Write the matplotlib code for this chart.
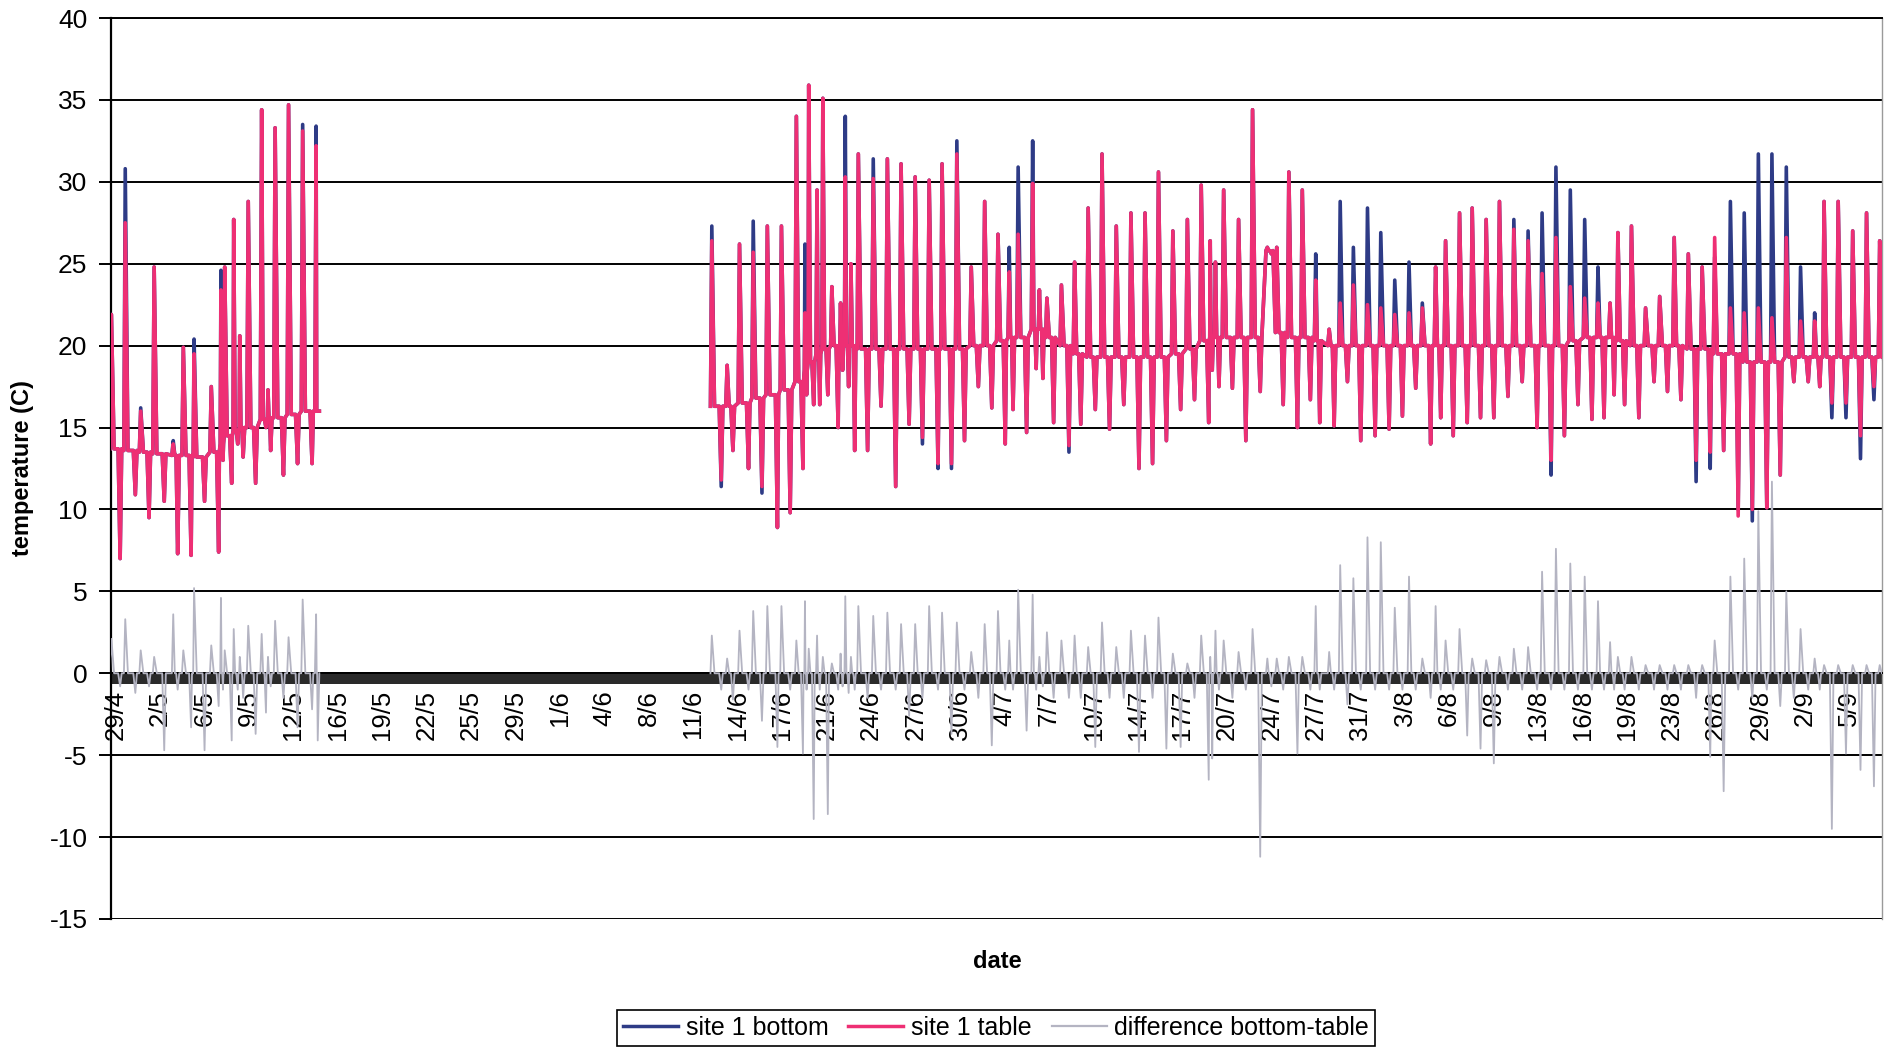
import matplotlib
matplotlib.use('Agg')
import matplotlib.pyplot as plt
from matplotlib.lines import Line2D
import numpy as np

plt.rcParams['font.family'] = ['Liberation Sans', 'DejaVu Sans']
plt.rcParams['axes.unicode_minus'] = False

# days counted from 29/4; one daily cycle = a peak followed by a trough
peak_day = [-0.30, 0.73, 1.88, 2.88, 4.30, 5.05, 5.85, 7.13, 7.85, 8.13,
            8.80, 9.25, 9.88, 10.88, 11.35, 11.88, 12.88, 13.93, 14.93,
            44.37, 45.51, 46.43, 47.45, 48.50, 49.55, 50.66, 51.30, 51.58, 52.20,
            52.63, 53.30, 53.95, 54.30, 54.72, 55.27, 56.38, 57.43, 58.45, 59.50,
            60.54, 61.50, 62.60, 63.67, 64.67, 65.66, 66.50, 67.16, 68.24, 68.74,
            69.30, 70.38, 71.36, 72.37, 73.40, 74.46, 75.55, 76.60, 77.60, 78.67,
            79.75, 80.78, 81.45, 81.84, 82.45, 83.56, 84.60, 85.70, 86.40, 87.30,
            88.30, 89.30, 90.30, 91.12, 92.10, 93.15, 94.14, 95.18, 96.24, 97.23,
            98.22, 98.96, 100.00, 100.94, 101.98, 102.97, 104.04, 105.10, 106.14, 107.17,
            108.24, 109.31, 110.30, 111.20, 111.78, 112.79, 113.84, 114.89, 115.97, 117.02,
            118.05, 118.98, 120.15, 121.18, 122.23, 123.24, 124.31, 125.37, 126.42, 127.12,
            128.17, 129.25, 130.28, 131.26]
table_peak = [21.9, 27.5, 16.0, 24.8, 14.0, 19.9, 19.5, 17.5, 23.4, 24.8,
              27.7, 20.6, 28.8, 34.4, 17.3, 33.3, 34.7, 33.1, 32.2,
              26.4, 18.8, 26.2, 25.7, 27.3, 27.3, 34.0, 22.0, 35.9, 29.5,
              35.1, 23.6, 22.6, 30.3, 25.0, 31.7, 30.2, 31.4, 31.1, 30.3,
              30.1, 31.1, 31.7, 24.8, 28.8, 26.8, 24.5, 26.8, 29.9, 23.4,
              22.9, 23.7, 25.1, 28.4, 31.7, 27.3, 28.1, 28.1, 30.6, 27.0,
              27.7, 29.8, 26.4, 25.1, 29.5, 27.7, 34.4, 26.0, 26.0, 30.6,
              29.5, 24.0, 21.0, 22.6, 23.7, 22.5, 22.3, 21.9, 22.0, 22.3,
              24.8, 26.4, 28.1, 28.4, 27.7, 28.8, 27.1, 26.4, 24.4, 26.6,
              23.6, 22.9, 22.6, 22.6, 26.9, 27.3, 22.3, 23.0, 26.6, 25.6,
              24.8, 26.6, 22.3, 22.0, 22.3, 21.7, 26.6, 21.5, 21.5, 28.8,
              28.8, 27.0, 28.1, 26.4]
bottom_peak = [21.9, 30.8, 16.2, 24.8, 14.2, 19.9, 20.4, 17.5, 24.6, 24.8,
               27.7, 20.6, 28.8, 34.4, 17.3, 33.3, 34.7, 33.5, 33.4,
               27.3, 18.8, 26.2, 27.6, 27.3, 27.3, 34.0, 26.2, 35.9, 29.5,
               35.1, 23.6, 22.6, 34.0, 25.0, 31.7, 31.4, 31.4, 31.1, 30.3,
               30.1, 31.1, 32.5, 24.8, 28.8, 26.8, 26.0, 30.9, 32.5, 23.4,
               22.9, 23.7, 25.1, 28.4, 31.7, 27.3, 28.1, 28.1, 30.6, 27.0,
               27.7, 29.8, 26.4, 25.1, 29.5, 27.7, 34.4, 26.0, 26.0, 30.6,
               29.5, 25.6, 21.0, 28.8, 26.0, 28.4, 26.9, 24.0, 25.1, 22.6,
               24.8, 26.4, 28.1, 28.4, 27.7, 28.8, 27.7, 27.0, 28.1, 30.9,
               29.5, 27.7, 24.8, 22.6, 26.9, 27.3, 22.3, 23.0, 26.6, 25.6,
               24.8, 25.4, 28.8, 28.1, 31.7, 31.7, 30.9, 24.8, 22.0, 28.8,
               28.8, 27.0, 28.1, 26.4]
trough_day = [0.35, 1.48, 2.50, 3.63, 4.63, 5.63, 6.63, 7.68, 8.00, 8.65,
              9.10, 9.50, 10.43, 11.20, 11.55, 12.50, 13.55, 14.63, 15.05,
              45.07, 45.94, 47.10, 48.10, 49.25, 50.20, 51.15, 51.42, 51.95, 52.40,
              53.00, 53.77, 54.10, 54.55, 55.00, 55.96, 56.96, 58.05, 59.05, 60.04,
              61.20, 62.20, 63.17, 64.20, 65.20, 66.20, 66.78, 67.79, 68.50, 69.00,
              69.80, 70.94, 71.82, 72.90, 73.96, 75.02, 76.15, 77.16, 78.19, 79.25,
              80.28, 81.34, 81.60, 82.10, 83.10, 84.10, 85.17, 86.00, 86.88, 87.94,
              88.90, 89.60, 90.67, 91.66, 92.65, 93.72, 94.76, 95.75, 96.74, 97.85,
              98.60, 99.53, 100.57, 101.56, 102.55, 103.60, 104.66, 105.77, 106.81, 107.80,
              108.81, 109.85, 110.75, 111.50, 112.28, 113.34, 114.47, 115.47, 116.47, 117.60,
              118.65, 119.65, 120.73, 121.78, 122.86, 123.86, 124.87, 125.94, 126.80, 127.70,
              128.75, 129.83, 130.83, 131.70]
table_trough = [7.0, 10.9, 9.5, 10.5, 7.3, 7.2, 10.5, 7.4, 13.0, 11.6,
                14.0, 13.2, 11.6, 15.0, 13.6, 12.1, 12.8, 12.8, 16.0,
                11.8, 13.6, 12.5, 11.4, 8.9, 9.8, 12.5, 17.0, 16.4, 16.4,
                17.0, 15.0, 18.5, 17.5, 13.6, 13.6, 16.3, 11.4, 15.2, 14.4,
                12.8, 12.8, 14.2, 17.5, 16.2, 14.0, 16.1, 14.7, 18.6, 18.0,
                15.3, 13.9, 15.2, 16.1, 14.9, 16.4, 12.5, 12.8, 14.2, 16.1,
                16.7, 15.3, 18.5, 17.5, 17.4, 14.2, 17.2, 25.6, 16.4, 15.0,
                16.7, 15.3, 15.1, 17.8, 14.2, 14.5, 14.9, 15.7, 17.4, 14.0,
                15.6, 14.5, 15.3, 15.6, 15.6, 16.9, 17.8, 15.0, 13.0, 14.5,
                16.4, 15.5, 15.6, 17.0, 16.4, 15.6, 17.8, 17.2, 16.7, 13.0,
                13.5, 13.6, 9.6, 10.0, 10.1, 12.1, 17.8, 17.8, 17.5, 16.5,
                16.5, 14.5, 17.5, 17.0]
bottom_trough = [7.0, 10.9, 9.5, 10.5, 7.3, 7.2, 10.5, 7.4, 13.0, 11.6,
                 14.0, 13.2, 11.6, 15.0, 13.6, 12.1, 12.8, 12.8, 16.0,
                 11.4, 13.6, 12.5, 11.0, 8.9, 9.8, 12.5, 17.0, 16.4, 16.4,
                 17.0, 15.0, 18.5, 17.5, 13.6, 13.6, 16.3, 11.4, 15.2, 14.0,
                 12.5, 12.5, 14.2, 17.5, 16.2, 14.0, 16.1, 14.7, 18.6, 18.0,
                 15.3, 13.5, 15.2, 16.1, 14.9, 16.4, 12.5, 12.8, 14.2, 16.1,
                 16.7, 15.3, 18.5, 17.5, 17.4, 14.2, 17.2, 25.6, 16.4, 15.0,
                 16.7, 15.3, 15.1, 17.8, 14.2, 14.5, 14.9, 15.7, 17.4, 14.0,
                 15.6, 14.5, 15.3, 15.6, 15.6, 16.9, 17.8, 15.0, 12.1, 14.5,
                 16.4, 15.5, 15.6, 17.0, 16.4, 15.6, 17.8, 17.2, 16.7, 11.7,
                 12.5, 13.6, 10.0, 9.3, 10.1, 12.1, 17.8, 17.8, 17.5, 15.6,
                 15.6, 13.1, 16.7, 17.0]
level = [13.7, 13.6, 13.5, 13.4, 13.3, 13.3, 13.2, 13.5, 14.0, 14.5,
         14.8, 15.0, 15.0, 15.5, 15.6, 15.6, 15.8, 16.0, 16.0,
         16.3, 16.3, 16.5, 16.8, 17.0, 17.3, 17.8, 18.5, 19.0, 19.5,
         19.8, 20.0, 20.0, 20.0, 20.0, 19.8, 19.8, 19.8, 19.8, 19.8,
         19.8, 19.8, 19.8, 20.0, 20.0, 20.3, 20.5, 20.5, 21.0, 21.0,
         20.5, 20.0, 19.5, 19.3, 19.3, 19.3, 19.3, 19.3, 19.3, 19.5,
         19.8, 20.3, 20.5, 20.5, 20.5, 20.5, 20.5, 25.8, 20.8, 20.5,
         20.5, 20.3, 20.0, 20.0, 20.0, 20.0, 20.0, 20.0, 20.0, 20.0,
         20.0, 20.0, 20.0, 20.0, 20.0, 20.0, 20.0, 20.0, 20.0, 20.0,
         20.3, 20.5, 20.5, 20.5, 20.3, 20.0, 20.0, 20.0, 20.0, 19.8,
         19.8, 19.5, 19.5, 19.0, 19.0, 19.0, 19.3, 19.3, 19.3, 19.3,
         19.3, 19.3, 19.3, 19.3]
diff_up = [2.1, 3.3, 1.4, 1.0, 3.6, 1.4, 5.2, 1.7, 4.6, 1.4,
           2.7, 1.0, 2.9, 2.4, 1.0, 3.2, 2.2, 4.5, 3.6,
           2.3, 0.9, 2.6, 3.8, 4.1, 4.1, 2.0, 4.4, 1.5, 2.3,
           1.0, 0.6, 1.2, 4.7, 1.0, 4.1, 3.5, 3.7, 3.0, 3.0,
           4.1, 3.7, 3.1, 1.3, 3.0, 3.8, 2.0, 5.1, 4.8, 1.0,
           2.5, 2.0, 2.3, 1.6, 3.1, 1.6, 2.6, 2.3, 3.4, 1.2,
           0.6, 2.3, 1.0, 2.6, 2.0, 1.3, 2.7, 0.9, 0.9, 1.0,
           1.0, 4.1, 1.3, 6.6, 5.8, 8.3, 8.0, 4.0, 5.9, 0.9,
           4.1, 2.0, 2.7, 0.9, 0.8, 1.0, 1.5, 1.6, 6.2, 7.6,
           6.7, 5.9, 4.4, 1.9, 1.0, 1.0, 0.5, 0.5, 0.5, 0.5,
           0.5, 2.0, 5.9, 7.0, 9.9, 11.7, 5.0, 2.7, 0.9, 0.5,
           0.5, 0.5, 0.5, 0.5]
diff_down = [-0.8, -1.2, -0.8, -4.7, -1.0, -3.3, -4.7, -2.0, -1.0, -4.1,
             -1.0, -1.5, -3.7, -2.4, -0.8, -1.5, -3.3, -2.2, -4.1,
             -1.0, -1.6, -1.0, -2.9, -4.5, -1.0, -4.9, -1.0, -8.9, -1.0,
             -8.6, -1.0, -0.8, -1.2, -1.0, -1.5, -1.0, -1.0, -2.6, -1.5,
             -1.0, -3.7, -1.0, -1.5, -4.4, -1.0, -1.0, -3.5, -1.0, -0.8,
             -1.5, -1.5, -1.5, -4.5, -1.5, -1.5, -4.8, -1.5, -4.6, -4.5,
             -1.5, -6.5, -5.2, -1.0, -1.5, -1.0, -11.2, -0.8, -1.0, -4.9,
             -1.0, -1.0, -1.0, -1.9, -1.0, -1.0, -1.0, -1.0, -1.0, -1.5,
             -1.0, -1.0, -3.8, -4.6, -5.5, -1.0, -1.0, -1.0, -1.0, -1.0,
             -1.0, -1.0, -1.0, -1.0, -1.0, -1.0, -1.0, -1.0, -1.0, -1.5,
             -5.1, -7.2, -1.0, -1.5, -1.0, -2.0, -1.5, -1.0, -1.0, -9.5,
             -4.9, -5.9, -6.9, -1.0]

date_labels = ['29/4', '2/5', '6/5', '9/5', '12/5', '16/5', '19/5', '22/5', '25/5', '29/5',
               '1/6', '4/6', '8/6', '11/6', '14/6', '17/6', '21/6', '24/6', '27/6', '30/6',
               '4/7', '7/7', '10/7', '14/7', '17/7', '20/7', '24/7', '27/7', '31/7', '3/8',
               '6/8', '9/8', '13/8', '16/8', '19/8', '23/8', '26/8', '29/8', '2/9', '5/9']
label_step = 129 / 39   # days between two date labels


def spikes(hi, lo, lev):
    # one sharp peak and one sharp trough per cycle, back to the level in between
    xs, ys = [], []
    n = len(peak_day)
    for i in range(n):
        p, t = peak_day[i], trough_day[i]
        prev_t = trough_day[i - 1] if i > 0 else p - 1
        if p - prev_t > 5:   # logger gap
            xs.append(np.nan)
            ys.append(np.nan)
        nxt = peak_day[i + 1] if i + 1 < n else t + 1
        rise = min(0.10, 0.3 * (p - prev_t))
        fall = min(0.20, 0.35 * (t - p))
        pre = min(0.15, 0.35 * (t - p))
        post = min(0.12, 0.3 * (nxt - t))
        xs += [p - rise, p, p + fall, t - pre, t, t + post]
        ys += [lev[i], hi[i], lev[i], lev[i], lo[i], lev[i]]
    return np.array(xs), np.array(ys)


blue = '#2e3b86'
pink = '#ee2f74'
grey = '#b4b4c2'

fig = plt.figure(figsize=(18.92, 10.47), dpi=100)
ax = fig.add_axes([111 / 1892, 1 - 919 / 1047, (1882 - 111) / 1892, (919 - 18) / 1047])

bx, by = spikes(bottom_peak, bottom_trough, level)
tx, ty = spikes(table_peak, table_trough, level)
dx, dy = spikes(diff_up, diff_down, [0.0] * len(peak_day))

# the date axis sits on y = 0, its dense tick marks make a dark band
ax.axhspan(-0.65, 0, color='#2a2a2a', lw=0, zorder=1.5)
ax.plot(bx, by, color=blue, lw=2.6, zorder=3)
ax.plot(tx, ty, color=pink, lw=2.6, zorder=4)
ax.plot(dx, dy, color=grey, lw=1.3, zorder=5)

ax.spines['bottom'].set_position(('data', 0))
ax.spines['bottom'].set_linewidth(1.4)
ax.spines['left'].set_linewidth(1.6)
ax.spines['top'].set_linewidth(1.4)
ax.spines['right'].set_color('#9a9a9a')
ax.spines['right'].set_linewidth(1.0)

ax.set_xlim(-0.33, 131.43)
ax.set_ylim(-15, 40)
ax.set_yticks(range(-15, 41, 5))
for y in range(-15, 41, 5):
    ax.axhline(y, color='black', lw=1.4, zorder=1)

ax.set_xticks([k * label_step for k in range(len(date_labels))])
ax.set_xticklabels(date_labels, rotation=90)
ax.tick_params(axis='x', length=0, pad=12, labelsize=18.5)
ax.tick_params(axis='y', direction='out', length=9, width=1.4, labelsize=19, pad=8)

fig.text(22 / 1892, 1 - 468 / 1047, 'temperature (C)', rotation=90, fontsize=17,
         fontweight='bold', ha='center', va='center')
fig.text(997 / 1892, 1 - 962 / 1047, 'date', fontsize=17, fontweight='bold',
         ha='center', va='center')

handles = [Line2D([], [], color=blue, lw=2.5),
           Line2D([], [], color=pink, lw=2.5),
           Line2D([], [], color=grey, lw=1.6)]
leg = fig.legend(handles, ['site 1 bottom', 'site 1 table', 'difference bottom-table'],
                 loc='center', bbox_to_anchor=(996 / 1892, 1 - 1028 / 1047), ncol=3,
                 fontsize=18, frameon=True, fancybox=False, edgecolor='black',
                 handlelength=2.2, handletextpad=0.3, columnspacing=0.8,
                 borderpad=0.25, framealpha=1)
leg.get_frame().set_linewidth(1.2)

fig.savefig('out.png', dpi=100)
